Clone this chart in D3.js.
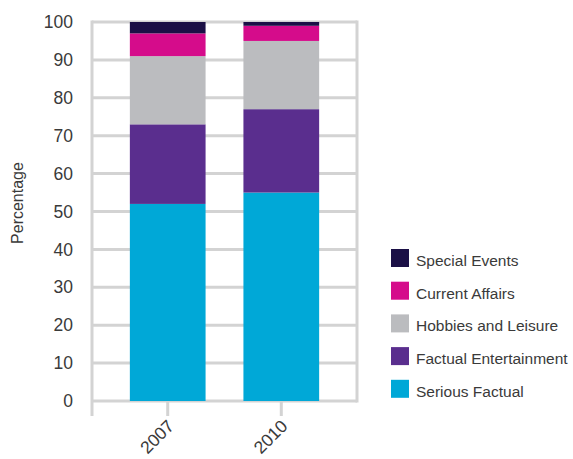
<!DOCTYPE html>
<html>
<head>
<meta charset="utf-8">
<script src="https://cdn.jsdelivr.net/npm/d3@7"></script>
<style>
  html, body { margin: 0; padding: 0; background: #fff; }
  svg { display: block; font-family: "Liberation Sans", Arial, sans-serif; }
</style>
</head>
<body>
<svg id="chart" width="573" height="459"></svg>
<script>
// Programme genre share by year (percent)
const years = ["2007", "2010"];
const genres = ["Serious Factual", "Factual Entertainment", "Hobbies and Leisure", "Current Affairs", "Special Events"];
const seriousFactual = [52, 55];
const factualEntertainment = [21, 22];
const hobbiesLeisure = [18, 18];
const currentAffairs = [6, 4];
const specialEvents = [3, 1];
const genreColors = ["#00a8d7", "#5a2e8e", "#bbbcbf", "#d50c8b", "#1b1046"];
const yTicks = [0, 10, 20, 30, 40, 50, 60, 70, 80, 90, 100];

const seriesValues = [seriousFactual, factualEntertainment, hobbiesLeisure, currentAffairs, specialEvents];
const rows = years.map((yr, i) => {
  const r = { year: yr };
  genres.forEach((g, k) => { r[g] = seriesValues[k][i]; });
  return r;
});

const svg = d3.select("#chart");
const plotLeft = 92, plotRight = 357, plotTop = 22, plotBottom = 401;
const gridColor = "#d3d3d3";
const textColor = "#3a3a3a";

const x = d3.scaleBand().domain(years).range([plotLeft, plotRight]).paddingInner(1/3).paddingOuter(1/3);
const y = d3.scaleLinear().domain([0, 100]).range([plotBottom, plotTop]);
const color = d3.scaleOrdinal().domain(genres).range(genreColors);

// Horizontal gridlines
svg.append("g")
  .selectAll("line")
  .data(yTicks)
  .join("line")
  .attr("x1", plotLeft).attr("x2", plotRight)
  .attr("y1", d => y(d)).attr("y2", d => y(d))
  .attr("stroke", gridColor)
  .attr("stroke-width", 3);

// Right frame edge
svg.append("line")
  .attr("x1", plotRight).attr("x2", plotRight)
  .attr("y1", plotTop - 1.5).attr("y2", plotBottom + 1.5)
  .attr("stroke", gridColor).attr("stroke-width", 3);

// Stacked bars
const stacked = d3.stack().keys(genres)(rows);
svg.append("g")
  .selectAll("g")
  .data(stacked)
  .join("g")
  .attr("fill", d => color(d.key))
  .selectAll("rect")
  .data(d => d)
  .join("rect")
  .attr("x", d => x(d.data.year))
  .attr("width", x.bandwidth())
  .attr("y", d => y(d[1]))
  .attr("height", d => y(d[0]) - y(d[1]));

// Left axis line (runs below the baseline)
svg.append("line")
  .attr("x1", plotLeft).attr("x2", plotLeft)
  .attr("y1", plotTop - 1.5).attr("y2", plotBottom + 15)
  .attr("stroke", gridColor).attr("stroke-width", 3);

// Y axis labels
const yAxis = d3.axisLeft(y).tickValues(yTicks).tickSize(0).tickPadding(19);
const gy = svg.append("g").attr("transform", `translate(${plotLeft},0)`).call(yAxis);
gy.select(".domain").remove();
gy.selectAll("text")
  .attr("font-size", 17.5)
  .attr("font-family", "Liberation Sans, Arial, sans-serif")
  .attr("fill", textColor);

// X axis with rotated year labels ending at each tick
const xAxis = d3.axisBottom(x).tickSize(15).tickPadding(4);
const gx = svg.append("g").attr("transform", `translate(0,${plotBottom})`).call(xAxis);
gx.select(".domain").remove();
gx.selectAll(".tick line").attr("stroke", gridColor).attr("stroke-width", 3);
gx.selectAll("text")
  .attr("font-size", 17.5)
  .attr("font-family", "Liberation Sans, Arial, sans-serif")
  .attr("fill", textColor)
  .attr("text-anchor", "end")
  .attr("x", 0)
  .attr("y", 0)
  .attr("dy", "0.35em")
  .attr("transform", "translate(3,22) rotate(-45)");

// Y axis title
svg.append("text")
  .attr("transform", "translate(23,203) rotate(-90)")
  .attr("text-anchor", "middle")
  .attr("font-size", 16)
  .attr("fill", textColor)
  .text("Percentage");

// Legend (top item is the top stack segment)
const legendItems = genres.slice().reverse();
const legend = svg.append("g").attr("transform", "translate(391,249)");
const item = legend.selectAll("g")
  .data(legendItems)
  .join("g")
  .attr("transform", (d, i) => `translate(0,${i * 32.7})`);
item.append("rect")
  .attr("width", 18).attr("height", 18)
  .attr("fill", d => color(d));
item.append("text")
  .attr("x", 25).attr("y", 17)
  .attr("font-size", 15.5)
  .attr("fill", textColor)
  .text(d => d);
</script>
</body>
</html>
